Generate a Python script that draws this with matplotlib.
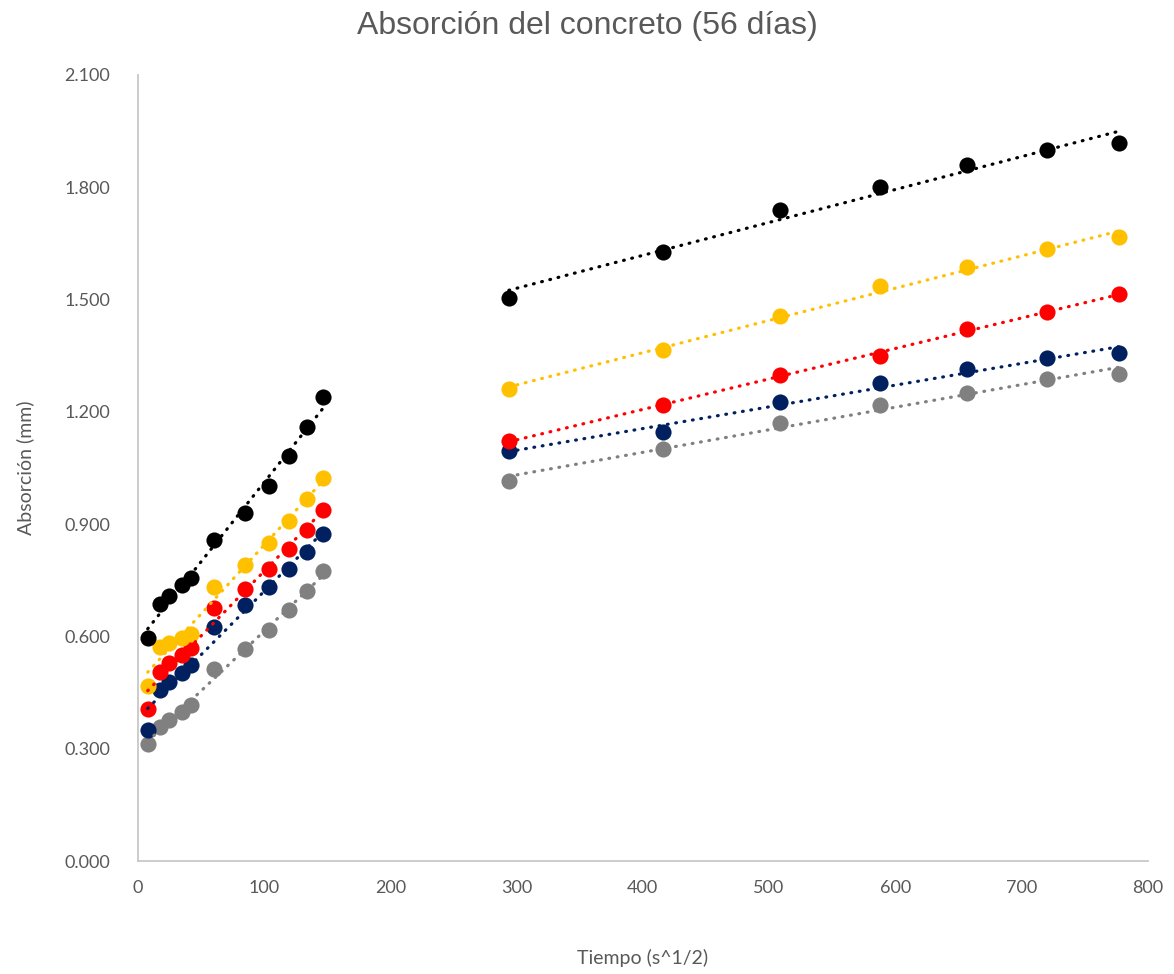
import numpy as np
import matplotlib
matplotlib.use('Agg')
import matplotlib.pyplot as plt

# tiempo (s^1/2)
t_ini = [7.75, 17.3, 24.5, 34.6, 42.4, 60.0, 84.9, 103.9, 120.0, 134.2, 147.0]
t_fin = [293.9, 415.7, 509.1, 587.9, 657.3, 720.0, 777.7]

# absorción (mm) por serie: primeros tramos
negro_ini    = [0.596, 0.687, 0.708, 0.737, 0.756, 0.858, 0.930, 1.002, 1.082, 1.160, 1.240]
amarillo_ini = [0.468, 0.572, 0.582, 0.596, 0.606, 0.732, 0.791, 0.850, 0.908, 0.967, 1.023]
rojo_ini     = [0.406, 0.505, 0.529, 0.550, 0.569, 0.676, 0.727, 0.780, 0.834, 0.884, 0.938]
azul_ini     = [0.350, 0.457, 0.478, 0.502, 0.524, 0.625, 0.684, 0.731, 0.779, 0.826, 0.873]
gris_ini     = [0.313, 0.358, 0.377, 0.398, 0.417, 0.512, 0.566, 0.616, 0.670, 0.721, 0.774]

# tramo final
negro_fin    = [1.504, 1.627, 1.739, 1.801, 1.859, 1.900, 1.918]
amarillo_fin = [1.261, 1.365, 1.456, 1.536, 1.587, 1.635, 1.667]
rojo_fin     = [1.122, 1.218, 1.298, 1.350, 1.421, 1.467, 1.515]
azul_fin     = [1.095, 1.147, 1.226, 1.277, 1.314, 1.345, 1.357]
gris_fin     = [1.015, 1.101, 1.170, 1.218, 1.250, 1.288, 1.301]

series = [
    (negro_ini, negro_fin, "#000000"),
    (amarillo_ini, amarillo_fin, "#FFC000"),
    (rojo_ini, rojo_fin, "#FF0000"),
    (azul_ini, azul_fin, "#002060"),
    (gris_ini, gris_fin, "#808080"),
]

plt.rcParams['font.family'] = ['Lato', 'DejaVu Sans']

fig = plt.figure(figsize=(11.74, 9.74), dpi=100)
ax = fig.add_axes([0.1175, 0.116, 0.860, 0.807])

for ini, fin, color in series[::-1]:
    for tx, vals in ((t_ini, ini), (t_fin, fin)):
        tx = np.array(tx)
        ax.scatter(tx, vals, s=135, color=color, zorder=3, linewidths=0)
        # línea de tendencia lineal
        m, b = np.polyfit(tx, vals, 1)
        xx = np.array([tx.min(), tx.max()])
        ax.plot(xx, m * xx + b, color=color, lw=2.3, linestyle=(0, (0.25, 2.4)),
                dash_capstyle='round', zorder=4)

ax.set_xlim(0, 800)
ax.set_ylim(0, 2.1)
ax.set_xticks(np.arange(0, 801, 100))
ax.set_yticks(np.arange(0, 2.101, 0.3))
ax.set_yticklabels([f"{v:.3f}" for v in np.arange(0, 2.101, 0.3)])
ax.tick_params(length=0, labelsize=13, colors="#595959")
ax.tick_params(axis='y', pad=20)
ax.tick_params(axis='x', pad=14)

for s in ['top', 'right']:
    ax.spines[s].set_visible(False)
for s in ['left', 'bottom']:
    ax.spines[s].set_color("#c8c8c8")
    ax.spines[s].set_linewidth(1.3)

fig.text(0.5, 0.973, "Absorción del concreto (56 días)", ha='center', va='center',
         fontsize=23, color="#595959", family=['Liberation Sans', 'DejaVu Sans'])
ax.set_xlabel("Tiempo (s^1/2)", fontsize=14, color="#595959", labelpad=38)
ax.set_ylabel("Absorción (mm)", fontsize=14, color="#595959", labelpad=22)

fig.savefig("out.png", dpi=100)
